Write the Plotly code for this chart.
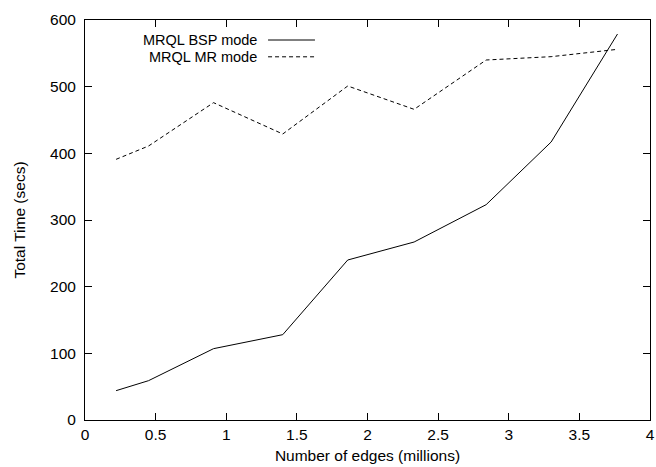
import plotly.graph_objects as go

edges = [0.22, 0.45, 0.91, 1.4, 1.86, 2.33, 2.84, 3.3, 3.77]
bsp_time = [44, 59, 107, 128, 240, 267, 323, 417, 579]
mr_time = [391, 411, 476, 429, 501, 466, 540, 545, 556]
series_names = ["MRQL BSP mode", "MRQL MR mode"]
x_ticks = [0, 0.5, 1, 1.5, 2, 2.5, 3, 3.5, 4]
x_tick_labels = ["0", "0.5", "1", "1.5", "2", "2.5", "3", "3.5", "4"]
y_ticks = [0, 100, 200, 300, 400, 500, 600]

FONT = "Liberation Sans, Arial, sans-serif"

fig = go.Figure()
fig.add_trace(go.Scatter(x=edges, y=bsp_time, mode="lines", name=series_names[0],
                         line=dict(color="black", width=1)))
fig.add_trace(go.Scatter(x=edges, y=mr_time, mode="lines", name=series_names[1],
                         line=dict(color="black", width=1, dash="4px,3px")))

# legend drawn gnuplot-style: right-aligned text, sample to the right
leg_y = [0.95, 0.908]
dashes = ["solid", "4px,3px"]
for name, yy, d in zip(series_names, leg_y, dashes):
    fig.add_annotation(text=name, xref="paper", yref="paper", x=0.308, y=yy,
                       xanchor="right", yanchor="middle", showarrow=False,
                       font=dict(family=FONT, size=14.5, color="black"))
    fig.add_shape(type="line", xref="paper", yref="paper", x0=0.324, x1=0.407,
                  y0=yy, y1=yy, line=dict(color="black", width=1, dash=d))

axis_common = dict(showline=True, linecolor="black", linewidth=1, mirror="ticks",
                   ticks="inside", ticklen=7, tickcolor="black", tickwidth=1,
                   showgrid=False, zeroline=False, automargin=False,
                   ticklabeloverflow="allow",
                   tickfont=dict(family=FONT, size=15.5, color="black"))

fig.update_xaxes(range=[0, 4], tickvals=x_ticks, ticktext=x_tick_labels,
                 title=dict(text="Number of edges (millions)", standoff=8,
                            font=dict(family=FONT, size=15.5, color="black")),
                 **axis_common)
fig.update_yaxes(range=[0, 600], tickvals=y_ticks, ticklabelstandoff=5,
                 title=dict(text="Total Time (secs)", standoff=20,
                            font=dict(family=FONT, size=15.5, color="black")),
                 **axis_common)

fig.update_layout(width=656, height=467, showlegend=False,
                  margin=dict(l=85, r=6, t=20, b=47, pad=0),
                  paper_bgcolor="white", plot_bgcolor="white",
                  font=dict(family=FONT, color="black"))

fig.write_html("out.html", config={"displayModeBar": False},
               post_script="document.body.style.margin='0';"
                           "document.body.style.overflow='hidden';")
